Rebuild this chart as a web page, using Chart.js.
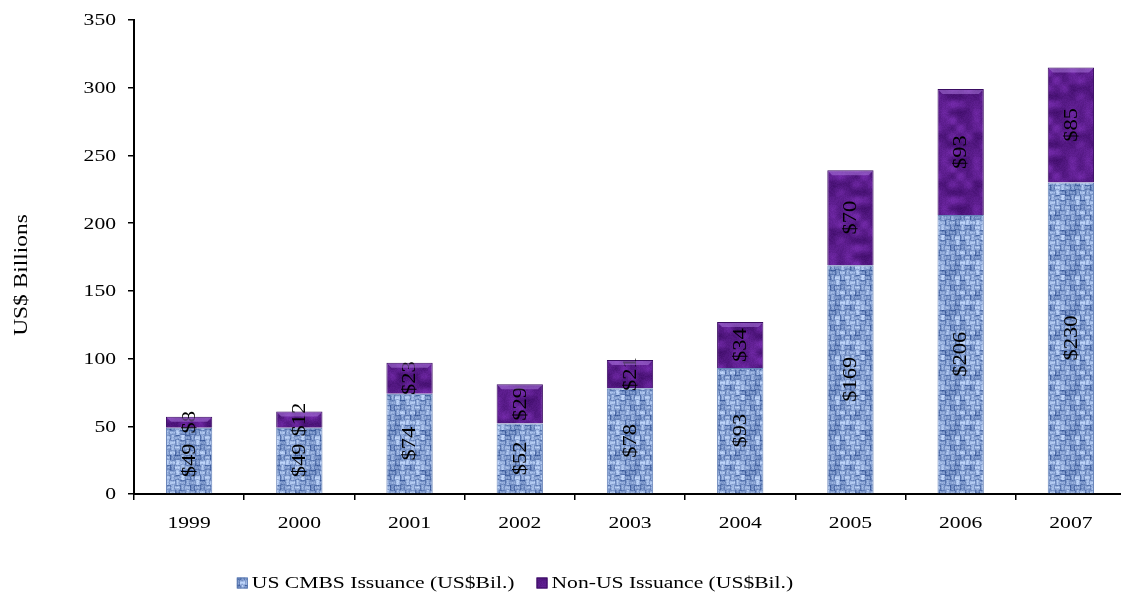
<!DOCTYPE html>
<html>
<head>
<meta charset="utf-8">
<script src="https://cdn.jsdelivr.net/npm/chart.js@4.4.0/dist/chart.umd.min.js"></script>
<style>
  html, body { margin: 0; padding: 0; background: #fff; overflow: hidden; }
  #wrap { width: 1130px; height: 596px; }
</style>
</head>
<body>
<div id="wrap"><canvas id="c" width="1130" height="596"></canvas></div>
<script>
// Issuance by year, US$ billions
const years = ['1999', '2000', '2001', '2002', '2003', '2004', '2005', '2006', '2007'];
const usIssuance = [49, 49, 74, 52, 78, 93, 169, 206, 230];
const nonUsIssuance = [8, 12, 23, 29, 21, 34, 70, 93, 85];
const seriesNames = ['US CMBS Issuance (US$Bil.)', 'Non-US Issuance (US$Bil.)'];
const yTicks = [0, 50, 100, 150, 200, 250, 300, 350];
const yAxisTitle = 'US$ Billions';

const SERIF = '"Liberation Serif", "Times New Roman", serif';
const WIDE = 1.27;   // horizontal stretch of the wide-set serif lettering

// Small deterministic hash used for the fabric textures
function hash(x, y, s) {
  let n = Math.imul(x, 374761393) + Math.imul(y, 668265263) + Math.imul(s, 1442695041);
  n = Math.imul(n ^ (n >>> 13), 1274126177);
  n = n ^ (n >>> 16);
  return (n >>> 0) / 4294967295;
}
function lerpColor(a, b, t) {
  t = Math.max(0, Math.min(1, t));
  return [0, 1, 2].map(i => Math.round(a[i] + (b[i] - a[i]) * t));
}

// Woven blue texture
function makeBlueTile() {
  const size = 40, cell = 5;
  const c = document.createElement('canvas');
  c.width = c.height = size;
  const g = c.getContext('2d');
  const img = g.createImageData(size, size);
  const ridge = [0.15, 0.7, 1.0, 0.85, 0.45];
  for (let y = 0; y < size; y++) {
    for (let x = 0; x < size; x++) {
      const bx = Math.floor(x / cell), by = Math.floor(y / cell);
      const horiz = ((bx + by) & 1) === 0;
      const t = horiz ? (y % cell) : (x % cell);
      let v = ridge[t] * 0.55 + hash(x, y, 1) * 0.25 + (hash(bx, by, 2) - 0.5) * 0.5 + 0.1;
      const col = lerpColor([54, 86, 152], [192, 214, 250], v);
      const i = (y * size + x) * 4;
      img.data[i] = col[0]; img.data[i + 1] = col[1]; img.data[i + 2] = col[2]; img.data[i + 3] = 255;
    }
  }
  g.putImageData(img, 0, 0);
  return c;
}

// Mottled purple texture
function makePurpleTile() {
  const size = 48, cell = 8, n = size / cell;
  const c = document.createElement('canvas');
  c.width = c.height = size;
  const g = c.getContext('2d');
  const img = g.createImageData(size, size);
  const sm = t => t * t * (3 - 2 * t);
  for (let y = 0; y < size; y++) {
    for (let x = 0; x < size; x++) {
      const gx = Math.floor(x / cell), gy = Math.floor(y / cell);
      const fx = sm((x % cell) / cell), fy = sm((y % cell) / cell);
      const a = hash(gx % n, gy % n, 7), b = hash((gx + 1) % n, gy % n, 7);
      const cc = hash(gx % n, (gy + 1) % n, 7), d = hash((gx + 1) % n, (gy + 1) % n, 7);
      const v0 = a + (b - a) * fx, v1 = cc + (d - cc) * fx;
      let v = (v0 + (v1 - v0) * fy) * 0.8 + hash(x, y, 9) * 0.2;
      const col = lerpColor([62, 12, 104], [122, 46, 178], v);
      const i = (y * size + x) * 4;
      img.data[i] = col[0]; img.data[i + 1] = col[1]; img.data[i + 2] = col[2]; img.data[i + 3] = 255;
    }
  }
  g.putImageData(img, 0, 0);
  return c;
}

const canvas = document.getElementById('c');
const ctx = canvas.getContext('2d');
const bluePattern = ctx.createPattern(makeBlueTile(), 'repeat');
const purplePattern = ctx.createPattern(makePurpleTile(), 'repeat');

// Draws text widened horizontally (in its own frame), optionally rotated
function wideText(c, text, x, y, opts) {
  const o = Object.assign({ size: 17, align: 'center', rotate: 0, stretch: WIDE }, opts);
  c.save();
  c.font = o.size + 'px ' + SERIF;
  c.fillStyle = '#000';
  c.textBaseline = 'middle';
  c.textAlign = o.align;
  c.translate(x, y);
  if (o.rotate) c.rotate(o.rotate);
  c.scale(o.stretch, 1);
  c.fillText(text, 0, 0);
  c.restore();
}
function wideWidth(c, text, size, stretch) {
  c.save();
  c.font = size + 'px ' + SERIF;
  const w = c.measureText(text).width * (stretch || WIDE);
  c.restore();
  return w;
}

// Axis tick labels placed from the chart's scales
const axisLabels = {
  id: 'axisLabels',
  afterDraw(chart) {
    const c = chart.ctx;
    const xs = chart.scales.x, ys = chart.scales.y;
    years.forEach((yr, i) => {
      wideText(c, yr, xs.getPixelForTick(i), xs.top + 30, { size: 17 });
    });
    yTicks.forEach(v => {
      wideText(c, String(v), ys.right - 18, ys.getPixelForValue(v) + 1, { size: 17, align: 'right' });
    });
  }
};

// Value labels, rotated, centred in each segment
const segmentLabels = {
  id: 'segmentLabels',
  afterDatasetsDraw(chart) {
    const c = chart.ctx;
    chart.data.datasets.forEach((ds, di) => {
      chart.getDatasetMeta(di).data.forEach((bar, i) => {
        const cy = (bar.y + bar.base) / 2;
        wideText(c, '$' + ds.data[i], bar.x + 1, cy, { size: 18, rotate: -Math.PI / 2, stretch: 1.25 });
      });
    });
  }
};

// Light bevel along the top of each stack
const topBevel = {
  id: 'topBevel',
  afterDatasetsDraw(chart) {
    const c = chart.ctx;
    const meta = chart.getDatasetMeta(chart.data.datasets.length - 1);
    c.save();
    meta.data.forEach(bar => {
      const l = bar.x - bar.width / 2, r = bar.x + bar.width / 2, t = bar.y;
      c.beginPath();
      c.moveTo(l + 1, t + 1);
      c.lineTo(r - 1, t + 1);
      c.lineTo(r - 5, t + 5);
      c.lineTo(l + 5, t + 5);
      c.closePath();
      c.fillStyle = 'rgba(175, 125, 225, 0.5)';
      c.fill();
    });
    c.restore();
  }
};

// Rotated y-axis title and the legend row
const decorations = {
  id: 'decorations',
  afterDraw(chart) {
    const c = chart.ctx;
    wideText(c, yAxisTitle, 22, 275, { size: 18, rotate: -Math.PI / 2, stretch: 1.3 });

    const box = 11, gapText = 4, gapItem = 22;
    const fills = [bluePattern, purplePattern];
    const edges = ['#5574ad', '#3a0c62'];
    const widths = seriesNames.map(s => wideWidth(c, s, 17));
    const total = widths.reduce((a, w) => a + box + gapText + w, 0) + gapItem;
    let x = 515 - total / 2;
    const y = 583;
    seriesNames.forEach((name, i) => {
      c.save();
      c.fillStyle = fills[i];
      c.fillRect(x, y - box / 2, box, box);
      c.strokeStyle = edges[i];
      c.lineWidth = 1;
      c.strokeRect(x + 0.5, y - box / 2 + 0.5, box - 1, box - 1);
      c.restore();
      wideText(c, name, x + box + gapText, y + 1, { size: 17, align: 'left' });
      x += box + gapText + widths[i] + gapItem;
    });
  }
};

new Chart(ctx, {
  type: 'bar',
  data: {
    labels: years,
    datasets: [
      {
        label: seriesNames[0],
        data: usIssuance,
        backgroundColor: bluePattern,
        borderColor: '#6582b8',
        borderWidth: 1,
        barPercentage: 0.6,
        categoryPercentage: 0.7
      },
      {
        label: seriesNames[1],
        data: nonUsIssuance,
        backgroundColor: purplePattern,
        borderColor: '#3a0c62',
        borderWidth: 1,
        barPercentage: 0.6,
        categoryPercentage: 0.7
      }
    ]
  },
  options: {
    responsive: false,
    animation: false,
    devicePixelRatio: 1,
    layout: { padding: { top: 20, right: 4, bottom: 62, left: 0 } },
    plugins: {
      legend: { display: false },
      tooltip: { enabled: false }
    },
    scales: {
      x: {
        stacked: true,
        grid: { display: true, drawOnChartArea: false, drawTicks: true, tickLength: 6, color: '#000', lineWidth: 1.5, offset: true },
        border: { display: true, color: '#000', width: 2 },
        ticks: { display: false },
        afterFit(scale) { scale.height = 40; }
      },
      y: {
        stacked: true,
        min: 0,
        max: 350,
        afterBuildTicks(scale) { scale.ticks = yTicks.map(v => ({ value: v })); },
        grid: { display: true, drawOnChartArea: false, drawTicks: true, tickLength: 6, color: '#000', lineWidth: 1.5 },
        border: { display: true, color: '#000', width: 2 },
        ticks: { display: false },
        afterFit(scale) { scale.width = 134; }
      }
    }
  },
  plugins: [segmentLabels, topBevel, axisLabels, decorations]
});
</script>
</body>
</html>
